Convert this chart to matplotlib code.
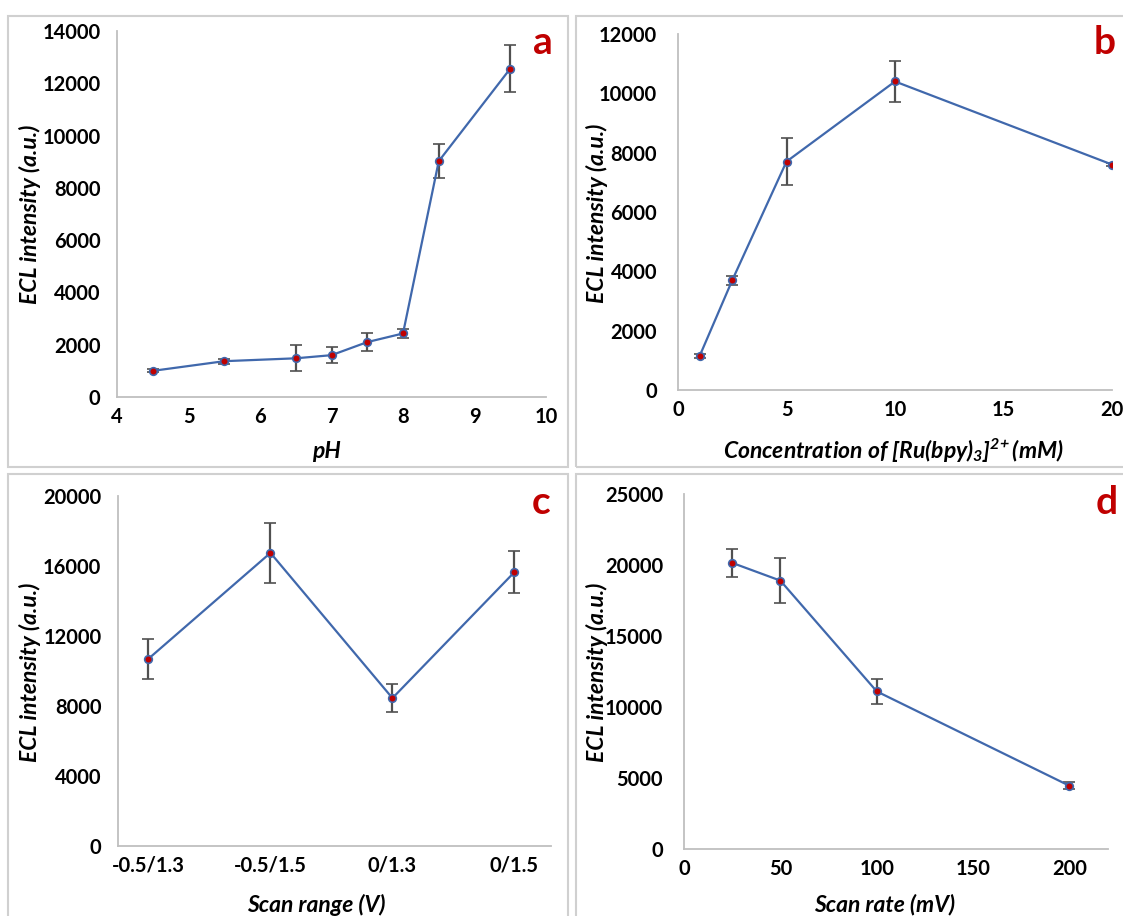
import matplotlib
matplotlib.use("Agg")
import matplotlib.pyplot as plt
from matplotlib.patches import Rectangle

plt.rcParams['font.family'] = ['Lato', 'DejaVu Sans']
plt.rcParams['mathtext.fontset'] = 'custom'
plt.rcParams['mathtext.rm'] = 'Lato:bold:italic'
plt.rcParams['mathtext.it'] = 'Lato:bold:italic'
plt.rcParams['mathtext.bf'] = 'Lato:bold:italic'

W, H = 1123, 916

# ---------------------- Data ----------------------
ph = [4.5, 5.5, 6.5, 7, 7.5, 8, 8.5, 9.5]
ph_ecl = [1000, 1370, 1480, 1600, 2100, 2430, 9020, 12560]
ph_err = [60, 100, 490, 300, 350, 180, 650, 900]

conc = [1, 2.5, 5, 10, 20]
conc_ecl = [1150, 3700, 7700, 10400, 7600]
conc_err = [60, 150, 780, 700, 60]

scan_range = ["-0.5/1.3", "-0.5/1.5", "0/1.3", "0/1.5"]
range_ecl = [10700, 16750, 8450, 15650]
range_err = [1150, 1730, 800, 1180]

scan_rate = [25, 50, 100, 200]
rate_ecl = [20150, 18900, 11100, 4450]
rate_err = [1000, 1600, 900, 250]

LINE = "#4068AC"
DOT = "#C00000"
ERR = "#505050"
SPINE = "#BFBFBF"


def px_box(left, top, right, bottom):
    return [left / W, 1 - bottom / H, (right - left) / W, (bottom - top) / H]


def panel(fig, left, top, right, bottom):
    fig.patches.append(Rectangle((left / W, 1 - bottom / H), (right - left) / W,
                                 (bottom - top) / H, transform=fig.transFigure,
                                 fill=False, edgecolor="#D0D0D0", linewidth=1.5))


def style(ax, ypad=12):
    for s in ["top", "right"]:
        ax.spines[s].set_visible(False)
    for s in ["left", "bottom"]:
        ax.spines[s].set_color(SPINE)
        ax.spines[s].set_linewidth(1.3)
    ax.tick_params(axis="both", length=0, labelsize=14.5)
    ax.tick_params(axis="y", pad=ypad)
    ax.tick_params(axis="x", pad=7)
    for lab in ax.get_xticklabels() + ax.get_yticklabels():
        lab.set_fontweight("bold")


def series(ax, x, y, e):
    ax.errorbar(x, y, yerr=e, color=LINE, lw=1.6, ecolor=ERR, elinewidth=1.6,
                capsize=4, capthick=1.6, marker="o", ms=5.5, mfc=DOT,
                mec=LINE, mew=1.2, zorder=3)


def lbl(fig, x, y, s, rot=0):
    fig.text(x / W, 1 - y / H, s, ha="center", va="center", rotation=rot,
             fontsize=16.5, fontweight="bold", fontstyle="italic")


def letter(fig, x, y, s):
    fig.text(x / W, 1 - y / H, s, ha="center", va="center", fontsize=28,
             fontweight="bold", color=DOT)


fig = plt.figure(figsize=(W / 100, H / 100), dpi=100)

panel(fig, 8, 16, 568, 467)
panel(fig, 576, 16, 1140, 467)
panel(fig, 8, 474, 568, 930)
panel(fig, 576, 474, 1140, 930)

# a: pH
ax = fig.add_axes(px_box(117, 31, 546, 397))
series(ax, ph, ph_ecl, ph_err)
ax.set_xlim(4, 10)
ax.set_ylim(0, 14000)
ax.set_yticks(range(0, 14001, 2000))
style(ax)
lbl(fig, 326, 452, "pH")
lbl(fig, 30, 214, "ECL intensity (a.u.)", 90)
letter(fig, 543, 43, "a")

# b: concentration
ax = fig.add_axes(px_box(678, 34, 1112, 390))
series(ax, conc, conc_ecl, conc_err)
ax.set_xlim(0, 20)
ax.set_ylim(0, 12000)
ax.set_xticks([0, 5, 10, 15, 20])
ax.set_yticks(range(0, 12001, 2000))
style(ax, ypad=15)
lbl(fig, 893, 451, r"Concentration of [Ru(bpy)$_{3}$]$^{2\!+}$(mM)")
lbl(fig, 597, 213, "ECL intensity (a.u.)", 90)
letter(fig, 1105, 43, "b")

# c: scan range
ax = fig.add_axes(px_box(118, 496, 551, 846))
xs = list(range(len(scan_range)))
series(ax, xs, range_ecl, range_err)
ax.set_xlim(-0.25, 3.3)
ax.set_ylim(0, 20000)
ax.set_xticks(xs)
ax.set_xticklabels(scan_range)
ax.set_yticks(range(0, 20001, 4000))
style(ax)
lbl(fig, 316, 905, "Scan range (V)")
lbl(fig, 30, 672, "ECL intensity (a.u.)", 90)
letter(fig, 541, 502, "c")

# d: scan rate
ax = fig.add_axes(px_box(684, 494, 1108, 849))
series(ax, scan_rate, rate_ecl, rate_err)
ax.set_xlim(0, 220)
ax.set_ylim(0, 25000)
ax.set_xticks([0, 50, 100, 150, 200])
ax.set_yticks(range(0, 25001, 5000))
style(ax, ypad=15)
lbl(fig, 885, 905, "Scan rate (mV)")
lbl(fig, 597, 672, "ECL intensity (a.u.)", 90)
letter(fig, 1107, 503, "d")

fig.savefig("out.png", dpi=100)
